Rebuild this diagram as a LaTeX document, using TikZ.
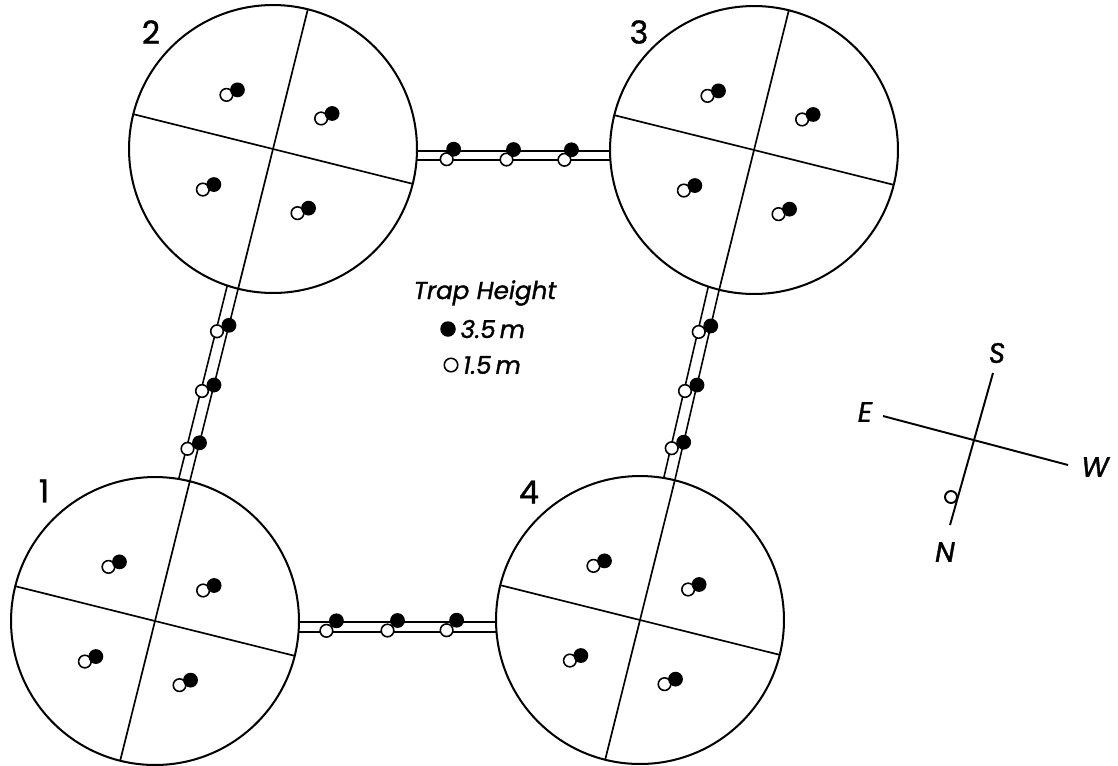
\documentclass[tikz,border=0pt]{standalone}
\usepackage{fontspec}
\setmainfont{Poppins}[FakeBold=1.2]
\usetikzlibrary{calc,positioning}
\tikzset{
  plot/.style={draw, circle, minimum size=5.76cm, inner sep=0pt, outer sep=0pt, line width=1.15pt},
  rail/.style={line width=0.9pt},
  pics/trap/.style={code={
    \draw[fill=white, line width=0.9pt] (#1) circle[radius=6.3];
    \fill (0,0) circle[radius=7.4];
  }},
}
\begin{document}
\begin{tikzpicture}[x=0.02cm, y=-0.02cm]
            \useasboundingbox (0,0) rectangle (1118,765);
            % plots
            \node[plot] (p1) at (155,621) {};
            \node[plot] (p2) at (273,149) {};
            \node[plot] (p3) at (754,150) {};
            \node[plot] (p4) at (640,620) {};
            \node[font=\fontsize{18}{18}\selectfont] (n1) at (44,491) {1};
            \node[font=\fontsize{18}{18}\selectfont] (n2) at (151,32) {2};
            \node[font=\fontsize{18}{18}\selectfont] (n3) at (639,32) {3};
            \node[font=\fontsize{18}{18}\selectfont] (n4) at (529,492) {4};
            % passages
            \draw[rail] ($(p2.east)+(0,2)$) -- ($(p3.west)+(0,1)$);
            \draw[rail] ($(p2.east)+(0,11)$) -- ($(p3.west)+(0,10)$);
            \draw[rail] ($(p1.east)+(0,1)$) -- ($(p4.west)+(0,2)$);
            \draw[rail] ($(p1.east)+(0,11)$) -- ($(p4.west)+(0,12)$);
            \draw[rail] (p2.256) -- (p1.76);
            \draw[rail] ($(p2.256)+(-11,-2.7)$) -- ($(p1.76)+(-11,-2.7)$);
            \draw[rail] (p3.256) -- (p4.76);
            \draw[rail] ($(p3.256)+(-11,-2.7)$) -- ($(p4.76)+(-11,-2.7)$);
            \foreach \t in {0.19,0.5,0.8} {
                \pic at ($(p2.east)!\t!(p3.west)$) {trap={-7,10}};
                \pic at ($(p1.east)!\t!(p4.west)$) {trap={-10,10}};
                \pic at ($(p2.256)!\t!(p1.76)$) {trap={-12,6}};
                \pic at ($(p3.256)!\t!(p4.76)$) {trap={-12,6}};
            }
            % quadrants
            \foreach \n in {1,...,4} {
                \draw[line width=0.95pt] (p\n.76) -- (p\n.256);
                \draw[line width=0.95pt] (p\n.166) -- (p\n.346);
                \foreach \a in {31,121,211,301}
                    \pic at ($(p\n)+(\a:1.38cm)$) {trap={-11,5}};
            }
            % key
            \node[font=\itshape\fontsize{14}{14}\selectfont] (key) at (485,293) {Trap Height};
            \node[fill, circle, inner sep=0pt, minimum size=0.31cm] (dhi) at (448,329) {};
            \node[draw, circle, inner sep=0pt, minimum size=0.27cm, line width=0.9pt] (dlo) at (451,365) {};
            \node[font=\itshape\fontsize{14}{14}\selectfont, right=-1pt of dhi] (thi) {3.5\,m};
            \node[font=\itshape\fontsize{14}{14}\selectfont, right=-1pt of dlo] (tlo) {1.5\,m};
            % compass
            \coordinate (ce) at (883,416);
            \coordinate (cw) at (1068,465);
            \coordinate (cs) at (993,373);
            \coordinate (cn) at (950,525);
            \draw[line width=1.1pt] (ce) -- (cw);
            \draw[line width=1.1pt] (cs) -- (cn);
            \draw[line width=1.1pt] (951,497) circle[radius=6];
            \node[font=\itshape\fontsize{16}{16}\selectfont] (ls) at (997,353) {S};
            \node[font=\itshape\fontsize{16}{16}\selectfont] (le) at (865,412) {E};
            \node[font=\itshape\fontsize{16}{16}\selectfont] (lw) at (1095,467) {W};
            \node[font=\itshape\fontsize{16}{16}\selectfont] (ln) at (945,552) {N};
        \end{tikzpicture}
\end{document}
